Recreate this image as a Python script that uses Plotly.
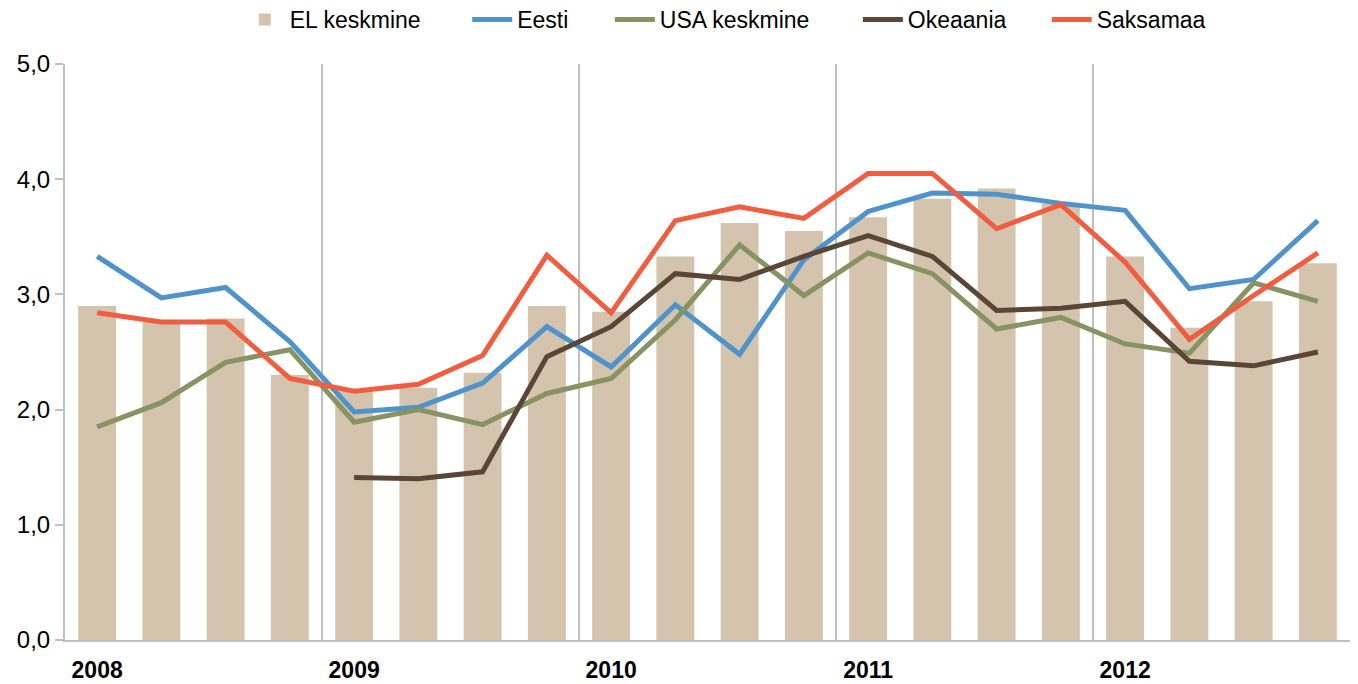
import plotly.graph_objects as go

quarters = list(range(20))
year_labels = ["2008", "2009", "2010", "2011", "2012"]
year_positions = [0, 4, 8, 12, 16]

el_keskmine = [2.90, 2.76, 2.79, 2.30, 2.16, 2.19, 2.32, 2.90, 2.85, 3.33,
               3.62, 3.55, 3.67, 3.83, 3.92, 3.79, 3.33, 2.71, 2.94, 3.27]
eesti = [3.33, 2.97, 3.06, 2.59, 1.98, 2.02, 2.23, 2.72, 2.37, 2.91,
         2.48, 3.30, 3.72, 3.88, 3.87, 3.79, 3.73, 3.05, 3.13, 3.64]
usa_keskmine = [1.85, 2.06, 2.41, 2.52, 1.89, 2.00, 1.87, 2.14, 2.27, 2.78,
                3.43, 2.99, 3.36, 3.18, 2.70, 2.80, 2.57, 2.49, 3.10, 2.94]
okeaania = [None, None, None, None, 1.41, 1.40, 1.46, 2.46, 2.72, 3.18,
            3.13, 3.33, 3.51, 3.33, 2.86, 2.88, 2.94, 2.42, 2.38, 2.50]
saksamaa = [2.84, 2.76, 2.76, 2.27, 2.16, 2.22, 2.47, 3.34, 2.84, 3.64,
            3.76, 3.66, 4.05, 4.05, 3.57, 3.78, 3.28, 2.61, 2.99, 3.36]

FONT = "Liberation Sans, Arial, sans-serif"

# one legend box per entry, so each entry sits where the reference puts it
legend_ids = ["legend", "legend2", "legend3", "legend4", "legend5"]
legend_x = [0.136, 0.313, 0.424, 0.617, 0.764]

fig = go.Figure()
fig.add_trace(go.Bar(x=quarters, y=el_keskmine, name="EL keskmine",
                     marker=dict(color="#D5C4AD", line=dict(width=0)), width=0.59,
                     legend=legend_ids[0]))
line_specs = [("Eesti", eesti, "#5093CB"),
              ("USA keskmine", usa_keskmine, "#879363"),
              ("Okeaania", okeaania, "#5A4636"),
              ("Saksamaa", saksamaa, "#F15D40")]
for i, (name, vals, col) in enumerate(line_specs, start=1):
    fig.add_trace(go.Scatter(x=quarters, y=vals, name=name, mode="lines",
                             line=dict(color=col, width=5), connectgaps=False,
                             legend=legend_ids[i]))

legend_style = dict(orientation="h", xanchor="left", y=1.04, yanchor="bottom",
                    font=dict(size=23, family=FONT), itemwidth=40,
                    bgcolor="rgba(0,0,0,0)")

# page body has an 8px default margin, so the figure is sized to fit the window
fig.update_layout(
    width=1350, height=676,
    margin=dict(l=57, r=8, t=56, b=44, autoexpand=False),
    paper_bgcolor="white", plot_bgcolor="white",
    font=dict(family=FONT, size=23, color="#000000"),
    separators=", ",
    showlegend=True,
)
fig.update_layout({lid: dict(legend_style, x=lx) for lid, lx in zip(legend_ids, legend_x)})

fig.update_xaxes(
    range=[-0.5, 19.5], tickmode="array", tickvals=year_positions,
    ticktext=["<b>" + t + "</b>" for t in year_labels],
    tickfont=dict(size=23, family=FONT, color="#000000"),
    showgrid=False, ticks="", showline=True, linecolor="#BFBFBF", linewidth=2,
    ticklabelstandoff=8,
    minor=dict(tick0=-0.5, dtick=4, showgrid=True, gridcolor="#BFBFBF", gridwidth=1.5),
    zeroline=False,
)
fig.update_yaxes(
    range=[0, 5], dtick=1, tickformat=".1f", showgrid=False, zeroline=False,
    showline=True, linecolor="#BFBFBF", linewidth=2, ticks="outside",
    tickcolor="#BFBFBF", ticklen=8, tickwidth=1.5,
    tickfont=dict(size=24, family=FONT, color="#000000"),
)
fig.write_html("out.html")
